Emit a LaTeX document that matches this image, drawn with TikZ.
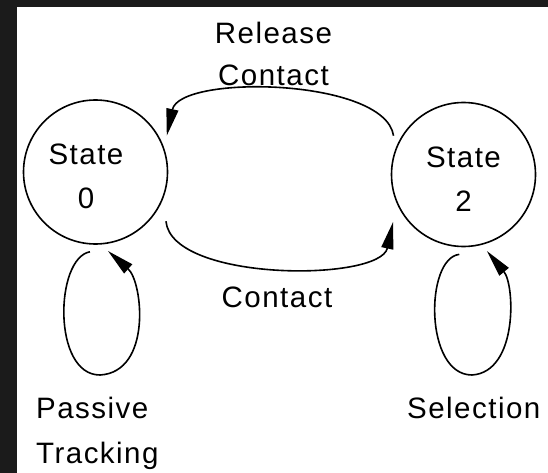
\documentclass[tikz,border=0pt]{standalone}
\usepackage{fontspec}
\setmainfont{Liberation Sans}[LetterSpace=5]
\usetikzlibrary{arrows.meta,calc}

\definecolor{frame}{HTML}{1B1B1B}

\tikzset{
  statecircle/.style={circle, draw, line width=1.6pt, minimum size=144pt,
                      inner sep=0pt, outer sep=8pt},
  lbl/.style={inner sep=0pt, font=\fontsize{29.5}{44}\selectfont},
  edge/.style={line width=1.6pt, -{Triangle[length=27pt,width=12pt]}},
}

\begin{document}
\begin{tikzpicture}[x=1pt, y=-1pt]
  % page: dark frame on the left and top, white canvas
  \useasboundingbox (0,0) rectangle (548,473);
  \fill[frame] (0,0) rectangle (548,473);
  \fill[white] (17,7) rectangle (548,473);

  % states
  \node[statecircle] (s0) at (95.5,172) {};
  \node[statecircle] (s2) at (463.5,174.5) {};
  \node[lbl, align=center] (t0) at ([shift={(-9.5,4.5)}]s0.center) {State\\0};
  \node[lbl, align=center] (t2) at ([shift={(0,4.5)}]s2.center) {State\\2};

  % transitions between the states
  \draw[edge] (s2.151) .. controls (385,78) and (180,74) .. (s0.27);
  \draw[edge] ($(s0.-35)!-6pt!(s0.center)$) .. controls (172,282) and (380,282)
              .. ($(s2.-146)!-5pt!(s2.center)$);

  % self loops
  \draw[edge] (s0.-94) .. controls (55,258) and (52,375) .. (100,375)
              .. controls (152,372) and (143,282) .. (s0.-81);
  \draw[edge] (s2.-93) .. controls (425,258) and (424,375) .. (472,375)
              .. controls (518,372) and (515,285) .. (s2.-73);

  % transition labels
  \node[lbl, align=center, font=\fontsize{29.5}{42}\selectfont] (lrel) at (273.5,53.5)
        {Release\\Contact};
  \node[lbl, anchor=base] (lcon) at (277,307) {Contact};
  \node[lbl, align=left, anchor=north west, font=\fontsize{29.5}{45}\selectfont]
        (lpas) at (36,397) {Passive\\Tracking};
  \node[lbl, anchor=base west] (lsel) at (407,418) {Selection};
\end{tikzpicture}
\end{document}
